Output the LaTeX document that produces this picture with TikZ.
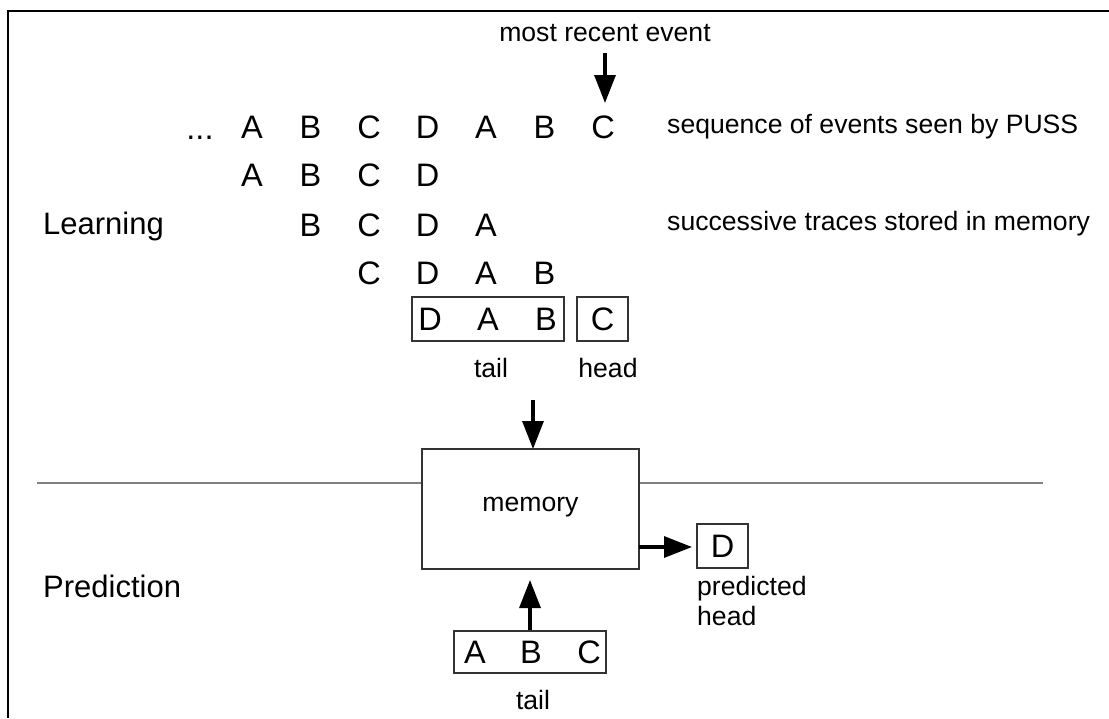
\documentclass[tikz,border=0pt]{standalone}
\usepackage{fontspec}
\setmainfont{Liberation Sans}
\usetikzlibrary{arrows.meta}
\begin{document}
\begin{tikzpicture}[x=1pt,y=-1pt,
  big/.style={font=\fontsize{32.5}{36}\selectfont, inner sep=0pt},
  side/.style={font=\fontsize{31}{36}\selectfont, inner sep=0pt},
  lbl/.style={font=\fontsize{26.6}{30}\selectfont, inner sep=0pt},
  frame/.style={line width=2pt},
  sepline/.style={draw=gray, line width=1.2pt},
  boxline/.style={draw=black!80, line width=1.3pt, fill=white, inner sep=0pt},
  bigarrow/.style={line width=3.2pt, -{Triangle[length=28pt,width=21pt]}}]
\useasboundingbox (0,0) rectangle (1109,718);
\draw[frame] (1109,11) -- (8,11) -- (8,718);

% separator
\coordinate (sl) at (37,483);
\coordinate (sr) at (1043,483);
\draw[sepline] (sl) -- (sr);

% top label and arrow
\node[lbl] (mrev) at (605,33) {most recent event};
\coordinate (a1s) at (605,53);
\coordinate (a1e) at (605,103);
\draw[bigarrow] (a1s) -- (a1e);

% left labels
\node[side, anchor=west] (learn) at (43,226) {Learning};
\node[side, anchor=west] (pred) at (43,586) {Prediction};

% right labels
\node[lbl, anchor=west] (seqlbl) at (667,127) {sequence of events seen by PUSS};
\node[lbl, anchor=west] (trlbl) at (667,224) {successive traces stored in memory};

% row 1
\node[big, anchor=base] (dots) at (200,139) {...};
\node[big] (r1a) at (252,127) {A};
\node[big] (r1b) at (310.5,127) {B};
\node[big] (r1c) at (369,127) {C};
\node[big] (r1d) at (427.5,127) {D};
\node[big] (r1e) at (486,127) {A};
\node[big] (r1f) at (544.5,127) {B};
\node[big] (r1g) at (603,127) {C};
% row 2
\node[big] (r2a) at (252,175) {A};
\node[big] (r2b) at (310.5,175) {B};
\node[big] (r2c) at (369,175) {C};
\node[big] (r2d) at (427.5,175) {D};
% row 3
\node[big] (r3b) at (310.5,225) {B};
\node[big] (r3c) at (369,225) {C};
\node[big] (r3d) at (427.5,225) {D};
\node[big] (r3e) at (486,225) {A};
% row 4
\node[big] (r4c) at (369,273) {C};
\node[big] (r4d) at (427.5,273) {D};
\node[big] (r4e) at (486,273) {A};
\node[big] (r4f) at (544.5,273) {B};
% row 5 boxes
\node[boxline, minimum width=152pt, minimum height=44pt] (tailbox) at (488,319) {};
\node[boxline, minimum width=51pt, minimum height=44pt] (headbox) at (602.5,319) {};
\node[big] (r5d) at (430,319) {D};
\node[big] (r5e) at (488,319) {A};
\node[big] (r5f) at (546,319) {B};
\node[big] (r5g) at (602.5,319) {C};
\node[lbl] (taillbl) at (491,368) {tail};
\node[lbl] (headlbl) at (608,368) {head};

% memory
\node[boxline, minimum width=217pt, minimum height=120pt] (mem) at (530.5,509) {};
\node[lbl] (memlbl) at (530.5,507) {memory};
\coordinate (a2s) at (533,400);
\coordinate (a2e) at (533,449);
\draw[bigarrow] (a2s) -- (a2e);

% predicted head
\node[boxline, minimum width=51pt, minimum height=44pt] (dbox) at (722.5,546) {};
\node[big] (dlet) at (722.5,546) {D};
\coordinate (a3s) at (639,547);
\coordinate (a3e) at (692,547);
\draw[bigarrow] (a3s) -- (a3e);
\node[lbl, anchor=north west, align=left] (predlbl) at (697,576) {predicted\\head};

% prediction tail
\node[boxline, minimum width=152pt, minimum height=42pt] (abcbox) at (530,652) {};
\node[big] (pa) at (475,652) {A};
\node[big] (pb) at (531,652) {B};
\node[big] (pc) at (589,652) {C};
\coordinate (a4e) at (530,580);
\draw[bigarrow] (abcbox.north -| a4e) -- (a4e);
\node[lbl] (tail2) at (533,700) {tail};
\end{tikzpicture}
\end{document}
